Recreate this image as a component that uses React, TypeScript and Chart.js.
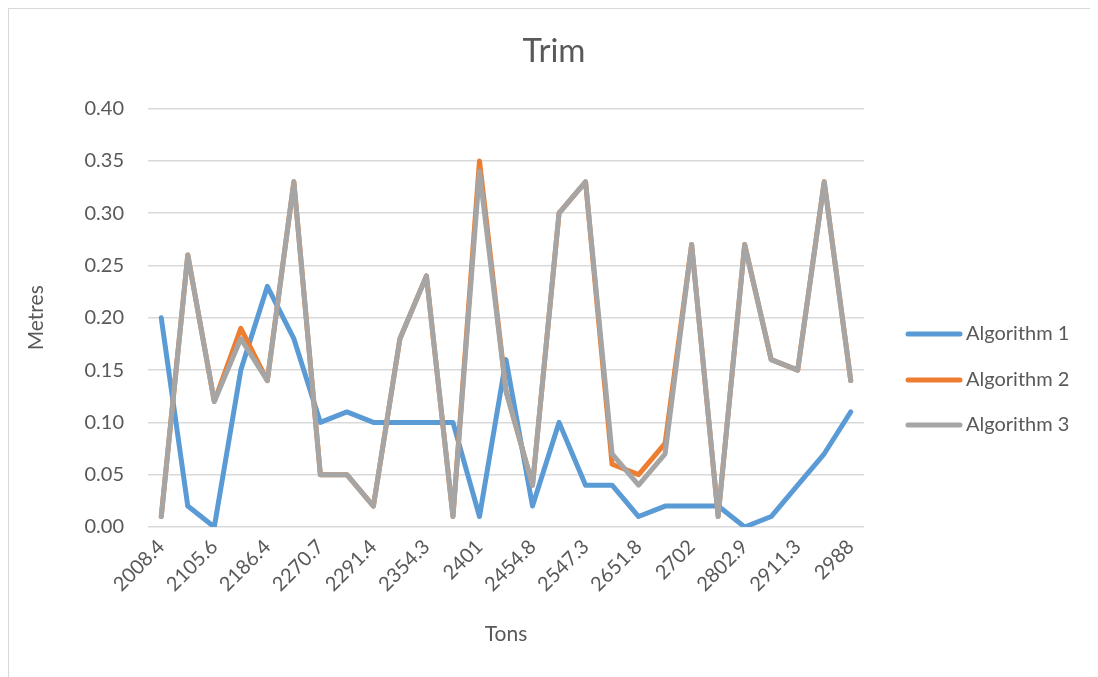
import React, { useEffect, useRef } from "react";
import { Chart, registerables } from "chart.js";

Chart.register(...registerables);

const categories = [
  "2008.4", "2040.2", "2105.6", "2150.3", "2186.4", "2201.5", "2270.7", "2278.6", "2291.4",
  "2320.1", "2354.3", "2378.9", "2401", "2426.5", "2454.8", "2500.2", "2547.3", "2601.7",
  "2651.8", "2680.4", "2702", "2750.6", "2802.9", "2860.5", "2911.3", "2950.7", "2988",
];
const algorithm1 = [0.2, 0.02, 0.0, 0.15, 0.23, 0.18, 0.1, 0.11, 0.1, 0.1, 0.1, 0.1, 0.01, 0.16, 0.02, 0.1, 0.04, 0.04, 0.01, 0.02, 0.02, 0.02, 0.0, 0.01, 0.04, 0.07, 0.11];
const algorithm2 = [0.01, 0.26, 0.12, 0.19, 0.14, 0.33, 0.05, 0.05, 0.02, 0.18, 0.24, 0.01, 0.35, 0.13, 0.04, 0.3, 0.33, 0.06, 0.05, 0.08, 0.27, 0.01, 0.27, 0.16, 0.15, 0.33, 0.14];
const algorithm3 = [0.01, 0.26, 0.12, 0.18, 0.14, 0.33, 0.05, 0.05, 0.02, 0.18, 0.24, 0.01, 0.34, 0.13, 0.04, 0.3, 0.33, 0.07, 0.04, 0.07, 0.27, 0.01, 0.27, 0.16, 0.15, 0.33, 0.14];
const seriesNames = ["Algorithm 1", "Algorithm 2", "Algorithm 3"];
const seriesColors = ["#5B9BD5", "#ED7D31", "#A5A5A5"];

const FONT = "Lato, 'Open Sans', sans-serif";
const TEXT = "#595959";

const legendPlugin = {
  id: "customLegend",
  afterDraw(chart: any) {
    const ctx = chart.ctx;
    ctx.save();
    const x0 = 897;
    const ys = [325, 371, 416];
    seriesNames.forEach((name, i) => {
      ctx.strokeStyle = seriesColors[i];
      ctx.lineWidth = 5;
      ctx.lineCap = "round";
      ctx.beginPath();
      ctx.moveTo(x0 + 2, ys[i]);
      ctx.lineTo(x0 + 54, ys[i]);
      ctx.stroke();
      ctx.fillStyle = TEXT;
      ctx.font = `20px ${FONT}`;
      ctx.textBaseline = "middle";
      ctx.textAlign = "left";
      ctx.fillText(name, x0 + 60, ys[i]);
    });
    ctx.restore();
  },
};

export default function App() {
  const ref = useRef<HTMLCanvasElement>(null);
  useEffect(() => {
    if (!ref.current) return;
    const data = [algorithm1, algorithm2, algorithm3];
    const chart = new Chart(ref.current, {
      type: "line",
      data: {
        labels: categories,
        datasets: data.map((d, i) => ({
          label: seriesNames[i],
          data: d,
          yAxisID: "y",
          borderColor: seriesColors[i],
          backgroundColor: seriesColors[i],
          borderWidth: 5,
          pointRadius: 0,
          tension: 0,
          borderCapStyle: "round" as const,
          borderJoinStyle: "round" as const,
          order: 3 - i,
        })),
      },
      options: {
        responsive: true,
        maintainAspectRatio: false,
        animation: false,
        layout: { padding: { left: 0, right: 0, top: 0, bottom: 0 } },
        plugins: {
          legend: { display: false },
          tooltip: { enabled: false },
          title: {
            display: true,
            text: "Trim",
            color: TEXT,
            font: { family: FONT, size: 33, weight: "normal" },
            padding: { top: 23, bottom: 37 },
          },
        },
        scales: {
          x: {
            offset: true,
            grid: { display: false, drawTicks: false },
            border: { display: false },
            ticks: {
              autoSkip: false,
              maxRotation: 45,
              minRotation: 45,
              padding: 8,
              color: TEXT,
              font: { family: FONT, size: 20 },
              callback: (_v: any, i: number) => (i % 2 === 0 ? categories[i] : ""),
            },
            title: {
              display: true,
              text: "Tons",
              color: TEXT,
              font: { family: FONT, size: 21 },
              padding: { top: 0, bottom: 42 },
            },
            afterFit: (s: any) => {
              s.height = 162;
            },
          },
          y: {
            min: 0,
            max: 0.4,
            grid: { color: "#D9D9D9", lineWidth: 1.5, drawTicks: false },
            border: { display: false },
            ticks: {
              stepSize: 0.05,
              padding: 24,
              color: TEXT,
              font: { family: FONT, size: 20 },
              callback: (v: any) => Number(v).toFixed(2),
            },
            title: {
              display: true,
              text: "Metres",
              color: TEXT,
              font: { family: FONT, size: 21 },
              padding: { top: 15, bottom: 0 },
            },
            afterFit: (s: any) => {
              s.width = 139;
            },
          },
          legendSpace: {
            type: "linear",
            position: "right",
            min: 0,
            max: 1,
            grid: { display: false, drawTicks: false },
            border: { display: false },
            ticks: { display: false },
            afterFit: (s: any) => {
              s.width = 235;
            },
          },
        },
      },
      plugins: [legendPlugin],
    });
    return () => chart.destroy();
  }, []);
  return (
    <div
      style={{
        width: 1092,
        height: 682,
        border: "1px solid #D9D9D9",
        boxSizing: "border-box",
        position: "relative",
        background: "#fff",
      }}
    >
      <canvas ref={ref} />
    </div>
  );
}
